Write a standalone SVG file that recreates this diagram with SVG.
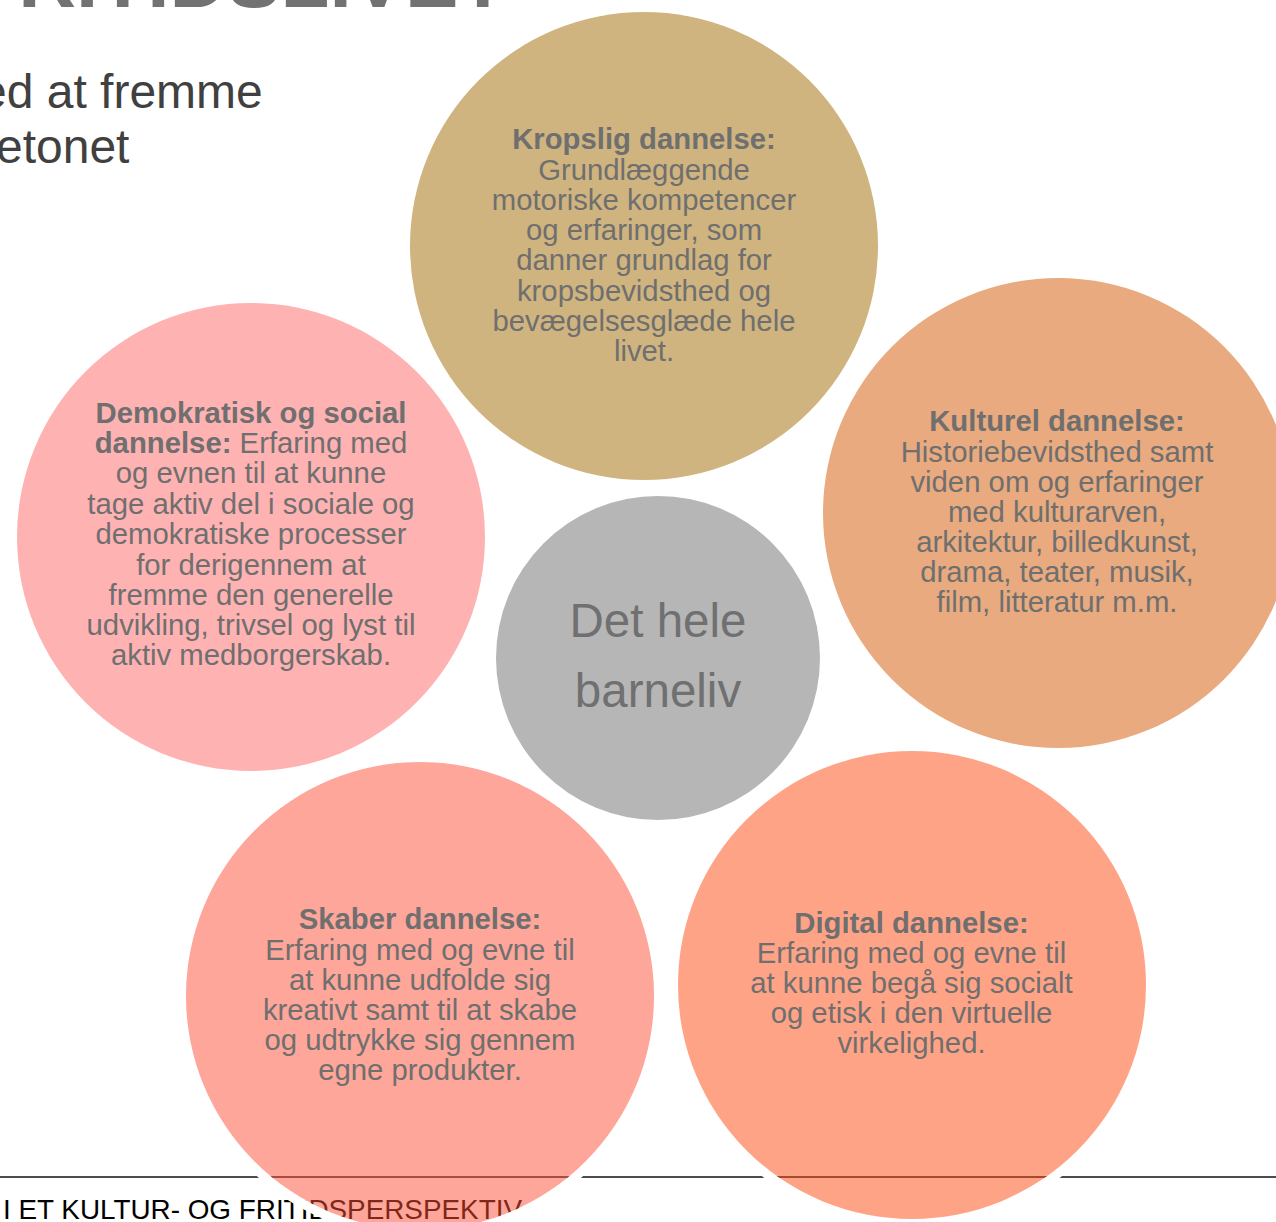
<svg xmlns="http://www.w3.org/2000/svg" width="1276" height="1222" viewBox="0 0 1276 1222">
<style>
.t{font-family:"Liberation Sans",Arial,sans-serif;font-size:29.3px;fill:#6f6f6f;text-anchor:middle}
.b{font-weight:bold}
.c{font-family:"Liberation Sans",Arial,sans-serif;font-size:47.5px;fill:#707070;text-anchor:middle}
.sub{font-family:"Liberation Sans",Arial,sans-serif;font-size:48px;fill:#404040}
.ring{fill:none;stroke:#ffffff;stroke-width:9}
</style>
<rect width="1276" height="1222" fill="#ffffff"/>
<g id="title">
<text x="-75" y="7" font-family="Liberation Sans, Arial, sans-serif" font-size="80" font-weight="bold" fill="#727272">I FRITIDSLIVET</text>
<text class="sub" x="-20" y="108">ed at fremme</text>
<text class="sub" x="-4" y="163">etonet</text>
</g>
<g id="footer">
<line x1="0" y1="1177" x2="1276" y2="1177" stroke="#111" stroke-width="1.3"/>
<text x="3" y="1219" font-family="Liberation Sans, Arial, sans-serif" font-size="27.7" fill="#000" textLength="519" lengthAdjust="spacingAndGlyphs">I ET KULTUR- OG FRITIDSPERSPEKTIV</text>
</g>
<g id="kropslig">
<circle cx="644" cy="246" r="234" fill="#cfb47f"/>
<text class="t"><tspan class="b" x="644" y="149">Kropslig dannelse:</tspan><tspan x="644" y="179.5">Grundlæggende</tspan><tspan x="644" y="210">motoriske kompetencer</tspan><tspan x="644" y="240">og erfaringer, som</tspan><tspan x="644" y="270">danner grundlag for</tspan><tspan x="644" y="300.5">kropsbevidsthed og</tspan><tspan x="644" y="331">bevægelsesglæde hele</tspan><tspan x="644" y="361">livet.</tspan></text>
</g>
<g id="demokratisk">
<circle cx="251" cy="537" r="234" fill="#feb2b2"/>
<text class="t"><tspan class="b" x="251" y="423">Demokratisk og social</tspan><tspan x="251" y="453"><tspan class="b">dannelse:</tspan> Erfaring med</tspan><tspan x="251" y="483">og evnen til at kunne</tspan><tspan x="251" y="514">tage aktiv del i sociale og</tspan><tspan x="251" y="544">demokratiske processer</tspan><tspan x="251" y="575">for derigennem at</tspan><tspan x="251" y="605">fremme den generelle</tspan><tspan x="251" y="635">udvikling, trivsel og lyst til</tspan><tspan x="251" y="665">aktiv medborgerskab.</tspan></text>
</g>
<g id="kulturel">
<circle cx="1058" cy="513" r="235" fill="#e8aa7e"/>
<text class="t"><tspan class="b" x="1057" y="431">Kulturel dannelse:</tspan><tspan x="1057" y="462">Historiebevidsthed samt</tspan><tspan x="1057" y="492">viden om og erfaringer</tspan><tspan x="1057" y="522">med kulturarven,</tspan><tspan x="1057" y="552">arkitektur, billedkunst,</tspan><tspan x="1057" y="582">drama, teater, musik,</tspan><tspan x="1057" y="612">film, litteratur m.m.</tspan></text>
</g>
<g id="center">
<circle cx="658" cy="658" r="162" fill="#b6b6b6"/>
<text class="c"><tspan x="658" y="637">Det hele</tspan><tspan x="658" y="707">barneliv</tspan></text>
</g>
<g id="skaber">
<circle class="ring" cx="420" cy="996" r="238.5"/>
<circle cx="420" cy="996" r="234" fill="#fb4d33" fill-opacity="0.5"/>
<text class="t"><tspan class="b" x="420" y="929">Skaber dannelse:</tspan><tspan x="420" y="960">Erfaring med og evne til</tspan><tspan x="420" y="990">at kunne udfolde sig</tspan><tspan x="420" y="1020">kreativt samt til at skabe</tspan><tspan x="420" y="1050">og udtrykke sig gennem</tspan><tspan x="420" y="1080">egne produkter.</tspan></text>
</g>
<g id="digital">
<circle class="ring" cx="912" cy="985" r="238.5"/>
<circle cx="912" cy="985" r="234" fill="#ff470d" fill-opacity="0.5"/>
<text class="t"><tspan class="b" x="911.5" y="933">Digital dannelse:</tspan><tspan x="911.5" y="963">Erfaring med og evne til</tspan><tspan x="911.5" y="993">at kunne begå sig socialt</tspan><tspan x="911.5" y="1023">og etisk i den virtuelle</tspan><tspan x="911.5" y="1053">virkelighed.</tspan></text>
</g>
<g id="connectors"></g>
</svg>
